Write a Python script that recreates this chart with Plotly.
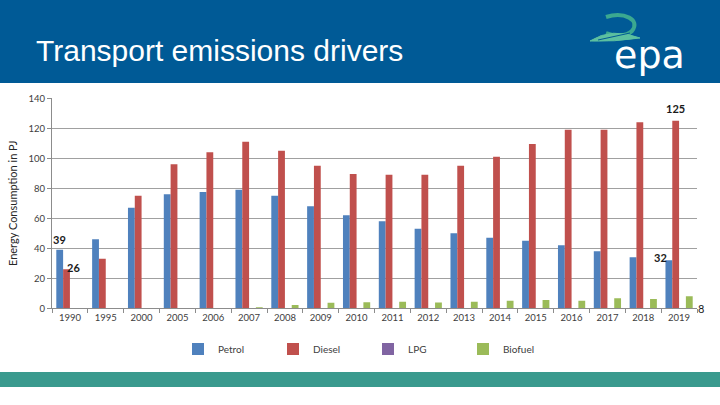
import plotly.graph_objects as go

years = ["1990", "1995", "2000", "2005", "2006", "2007", "2008", "2009", "2010",
         "2011", "2012", "2013", "2014", "2015", "2016", "2017", "2018", "2019"]
petrol = [39, 46, 67, 76, 77.5, 79, 75, 68, 62, 58, 53, 50, 47, 45, 42, 38, 34, 32]
diesel = [26, 33, 75, 96, 104, 111, 105, 95, 89.5, 89, 89, 95, 101, 109.5, 119, 119, 124, 125]
lpg = [0, 0, 0, 0, 0, 0, 0, 0, 0, 0, 0, 0, 0, 0, 0, 0, 0, 0]
biofuel = [0, 0, 0, 0, 0, 0.5, 2.2, 3.7, 4, 4.4, 3.8, 4.4, 5, 5.5, 5, 6.7, 6.2, 8]

series_names = ["Petrol", "Diesel", "LPG", "Biofuel"]
series_vals = [petrol, diesel, lpg, biofuel]
colors = ["#4F81BD", "#C0504D", "#8064A2", "#9BBB59"]

W, H = 720, 405


def px(x, y):
    return x / W, 1 - y / H


fig = go.Figure()
for name, vals, c in zip(series_names, series_vals, colors):
    fig.add_trace(go.Bar(x=years, y=vals, name=name, marker=dict(color=c, line=dict(width=0))))

tick_font = dict(family="Lato, sans-serif", size=9.5, color="#404040")
axis_grey = "#8C8C8C"

fig.update_layout(
    width=W, height=H,
    margin=dict(l=0, r=0, t=0, b=0, autoexpand=False),
    paper_bgcolor="white", plot_bgcolor="white",
    barmode="group", bargap=0.24, bargroupgap=0,
    showlegend=True,
    legend=dict(orientation="h", x=178 / W, y=1 - 349 / H, xanchor="left", yanchor="middle",
                font=dict(family="Lato, sans-serif", size=10, color="#404040"),
                itemwidth=30, entrywidth=50, entrywidthmode="pixels",
                bgcolor="rgba(0,0,0,0)", traceorder="normal"),
    xaxis=dict(domain=[52 / W, 697 / W], type="category", range=[-0.5, len(years) - 0.5],
               showline=True, linecolor=axis_grey, automargin=False,
               ticks="outside", tickson="boundaries", ticklen=4, tickcolor=axis_grey,
               tickfont=tick_font, tickangle=0, showgrid=False, fixedrange=True),
    yaxis=dict(domain=[1 - 308.3 / H, 1 - 98.3 / H], range=[0, 140], dtick=20, automargin=False,
               showgrid=True, gridcolor="#A0A0A0", gridwidth=1, zeroline=False,
               showline=True, linecolor=axis_grey, ticks="outside", ticklen=4, tickcolor=axis_grey,
               tickfont=tick_font, fixedrange=True,
               title=dict(text="Energy Consumption in PJ", standoff=8,
                          font=dict(family="Lato, sans-serif", size=11, color="#262626"))),
)

# data labels attached to bars via data coordinates (category index on x)
labels = [
    (0, petrol[0], -10, 10),
    (0, diesel[0], 4, 2),
    (len(years) - 1, petrol[-1], -19, 3),
    (len(years) - 1, diesel[-1], -4, 12),
]
for xi, yv, dx, dy in labels:
    fig.add_annotation(x=xi, y=yv, xref="x", yref="y", text="<b>%g</b>" % yv, showarrow=False,
                       xshift=dx, yshift=dy,
                       font=dict(family="Lato, sans-serif", size=11, color="#1a1a1a"))

# slide decoration: header band, footer band
fig.add_shape(type="rect", xref="paper", yref="paper", x0=0, x1=1, y0=1 - 83 / H, y1=1,
              fillcolor="#005A96", line=dict(width=0), layer="below")
fig.add_shape(type="rect", xref="paper", yref="paper", x0=0, x1=1, y0=1 - 387 / H, y1=1 - 372 / H,
              fillcolor="#3A9A8E", line=dict(width=0), layer="below")

fig.add_annotation(xref="paper", yref="paper", x=34 / W, y=1 - 50 / H, xanchor="left", yanchor="middle",
                   text="Transport emissions drivers", showarrow=False,
                   font=dict(family="Liberation Sans, Arial, sans-serif", size=30, color="white"))

# EPA logo
fig.add_annotation(xref="paper", yref="paper", x=649 / W, y=1 - 55 / H, xanchor="center", yanchor="middle",
                   text="epa", showarrow=False,
                   font=dict(family="DejaVu Sans, sans-serif", size=38, color="white"))


def path(points, close=False):
    s = ""
    for cmd, pts in points:
        s += cmd + " " + " ".join("%.5f,%.5f" % px(a, b) for a, b in pts) + " "
    if close:
        s += "Z"
    return s


swirl = path([("M", [(606, 17)]), ("C", [(624, 11), (641, 20), (632, 31)]),
              ("C", [(626, 37), (614, 36), (606, 33)])])
fig.add_shape(type="path", xref="paper", yref="paper", path=swirl,
              line=dict(color="#3BA890", width=4), fillcolor="rgba(0,0,0,0)")
leaf = path([("M", [(590, 41)]), ("Q", [(612, 27), (640, 38)]), ("Q", [(614, 42), (590, 41)])], close=True)
fig.add_shape(type="path", xref="paper", yref="paper", path=leaf,
              line=dict(color="#5CC0A0", width=1), fillcolor="#5CC0A0")
fig.add_shape(type="line", xref="paper", yref="paper",
              x0=px(598, 40)[0], y0=px(598, 40)[1], x1=px(630, 33)[0], y1=px(630, 33)[1],
              line=dict(color="#005A96", width=1))

fig.add_annotation(xref="paper", yref="paper", x=701 / W, y=1 - 308 / H, xanchor="center", yanchor="middle",
                   text="8", showarrow=False,
                   font=dict(family="Lato, sans-serif", size=11, color="#1a1a1a"))

fig.write_html("out.html", config={"displayModeBar": False},
               post_script="document.body.style.margin='0';document.body.style.overflow='hidden';")
